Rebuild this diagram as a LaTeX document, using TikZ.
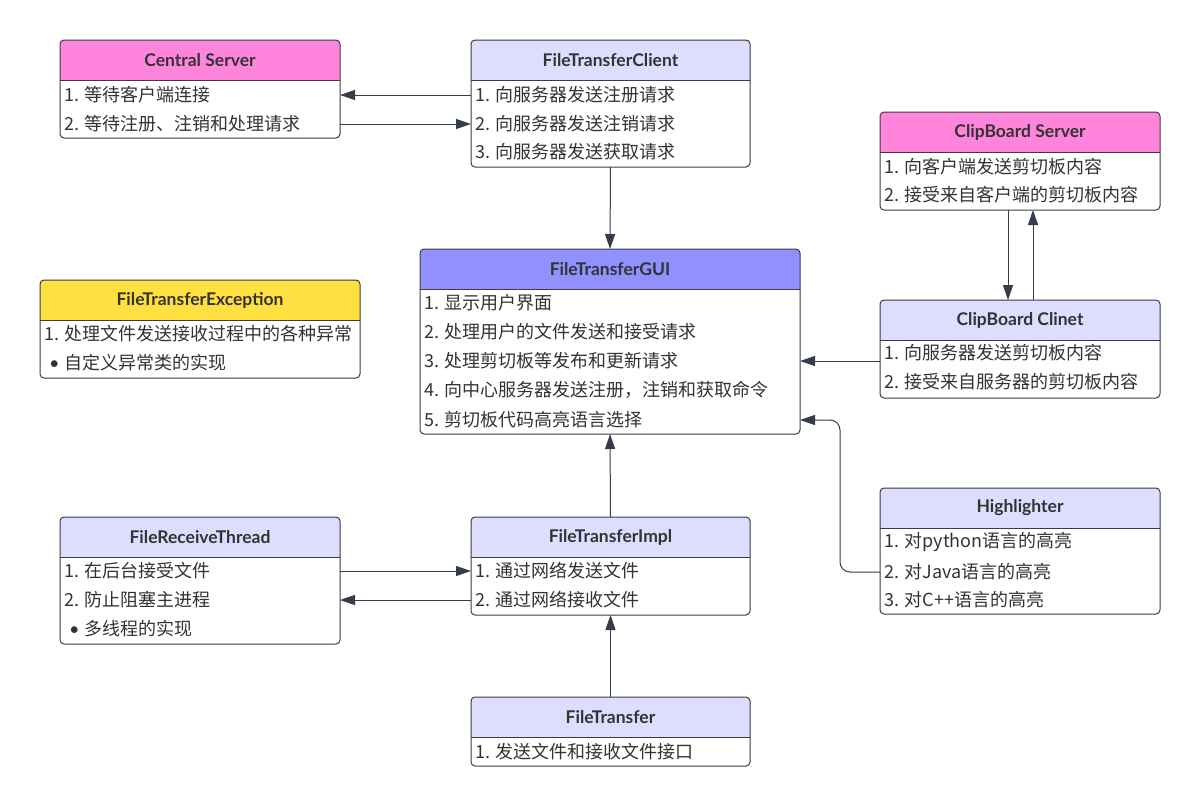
\documentclass[tikz,border=0pt]{standalone}
\usepackage{fontspec}
\setmainfont{Noto Sans CJK SC}
\newfontfamily\titlefont{Lato}
\usetikzlibrary{arrows.meta}
\definecolor{pinkh}{HTML}{FF85DC}
\definecolor{lavh}{HTML}{DDDDFF}
\definecolor{guih}{HTML}{9090FF}
\definecolor{yelh}{HTML}{FFE040}
\definecolor{bordc}{HTML}{3C3C3C}
\definecolor{arrc}{HTML}{353C4A}
\definecolor{txtc}{HTML}{333333}
\tikzset{
  boxframe/.style={draw=bordc, line width=1pt, rounded corners=4pt, inner sep=0pt, outer sep=0pt},
  titletext/.style={font=\titlefont\bfseries\fontsize{17.5}{20}\selectfont, text=txtc, inner sep=0pt},
  rowtext/.style={font=\fontsize{18}{20}\selectfont, text=txtc, anchor=west, inner sep=0pt},
  conn/.style={draw=arrc, line width=1pt, -{Triangle[length=15pt,width=10pt]}},
}
\newcommand\umlbox[7]{%
  \fill[#6] (#2,#3+40) {[rounded corners=4pt] -- (#2,#3) -- (#2+#4,#3)} -- (#2+#4,#3+40) -- cycle;
  \draw[bordc, line width=1pt] (#2,#3+40) -- (#2+#4,#3+40);
  \node[boxframe, minimum width=#4pt, minimum height=#5pt, anchor=north west] (#1) at (#2,#3) {};
  \node[titletext] (#1-t) at (#2+#4/2,#3+20) {#7};
}
\begin{document}
\begin{tikzpicture}[x=1pt,y=-1pt]
\fill[white] (0,0) rectangle (1200,807);
\useasboundingbox (0,0) rectangle (1200,807);

% Central Server
\umlbox{cs}{60}{40}{280}{98}{pinkh}{Central Server}
\node[rowtext] (cs1) at (64,95) {1. 等待客户端连接};
\node[rowtext] (cs2) at (64,124) {2. 等待注册、注销和处理请求};

% FileTransferClient
\umlbox{fc}{471}{40}{279}{127}{lavh}{FileTransferClient}
\node[rowtext] (fc1) at (475,95) {1. 向服务器发送注册请求};
\node[rowtext] (fc2) at (475,124) {2. 向服务器发送注销请求};
\node[rowtext] (fc3) at (475,152) {3. 向服务器发送获取请求};

% ClipBoard Server
\umlbox{cbs}{880}{112}{280}{98}{pinkh}{ClipBoard Server}
\node[rowtext] (cbs1) at (884,167) {1. 向客户端发送剪切板内容};
\node[rowtext] (cbs2) at (884,195) {2. 接受来自客户端的剪切板内容};

% FileTransferGUI
\umlbox{gui}{420}{249}{380}{185}{guih}{FileTransferGUI}
\node[rowtext] (gui1) at (424,303) {1. 显示用户界面};
\node[rowtext] (gui2) at (424,332) {2. 处理用户的文件发送和接受请求};
\node[rowtext] (gui3) at (424,361) {3. 处理剪切板等发布和更新请求};
\node[rowtext] (gui4) at (424,390) {4. 向中心服务器发送注册，注销和获取命令};
\node[rowtext] (gui5) at (424,420) {5. 剪切板代码高亮语言选择};

% FileTransferException
\umlbox{fte}{40}{280}{320}{98}{yelh}{FileTransferException}
\node[rowtext] (fte1) at (44,334) {1. 处理文件发送接收过程中的各种异常};
\node[rowtext] (fte2) at (49,363) {{\titlefont •}\hspace{5pt}自定义异常类的实现};

% ClipBoard Clinet
\umlbox{cbc}{880}{300}{280}{98}{lavh}{ClipBoard Clinet}
\node[rowtext] (cbc1) at (884,353) {1. 向服务器发送剪切板内容};
\node[rowtext] (cbc2) at (884,382) {2. 接受来自服务器的剪切板内容};

% Highlighter
\umlbox{hl}{880}{488}{280}{126}{lavh}{Highlighter}
\node[rowtext] (hl1) at (884,542) {1. 对python语言的高亮};
\node[rowtext] (hl2) at (884,572) {2. 对Java语言的高亮};
\node[rowtext] (hl3) at (884,600) {3. 对C++语言的高亮};

% FileReceiveThread
\umlbox{frt}{60}{517}{280}{127}{lavh}{FileReceiveThread}
\node[rowtext] (frt1) at (64,571) {1. 在后台接受文件};
\node[rowtext] (frt2) at (64,600) {2. 防止阻塞主进程};
\node[rowtext] (frt3) at (69,629) {{\titlefont •}\hspace{5pt}多线程的实现};

% FileTransferImpl
\umlbox{fti}{471}{517}{279}{98}{lavh}{FileTransferImpl}
\node[rowtext] (fti1) at (475,571) {1. 通过网络发送文件};
\node[rowtext] (fti2) at (475,600) {2. 通过网络接收文件};

% FileTransfer
\umlbox{ft}{471}{697}{279}{69}{lavh}{FileTransfer}
\node[rowtext] (ft1) at (475,752) {1. 发送文件和接收文件接口};

% connectors
\draw[conn] (fc.west |- fc1) -- (cs.east |- fc1);
\draw[conn] (cs.east |- cs2) -- (fc.west |- cs2);
\draw[conn] (fc.south) -- (gui.north);
\draw[conn] ([xshift=-12pt]cbs.south) -- ([xshift=-12pt]cbc.north);
\draw[conn] ([xshift=13pt]cbc.north) -- ([xshift=13pt]cbs.south);
\draw[conn] (cbc.west |- gui3) -- (gui.east |- gui3);
\draw[conn, rounded corners=10pt] (hl.west |- hl2) -- ++(-40,0) |- (gui.east |- gui5);
\draw[conn] (fti.north) -- (gui.south);
\draw[conn] (frt.east |- frt1) -- (fti.west |- frt1);
\draw[conn] (fti.west |- fti2) -- (frt.east |- fti2);
\draw[conn] (ft.north) -- (fti.south);
\end{tikzpicture}
\end{document}
